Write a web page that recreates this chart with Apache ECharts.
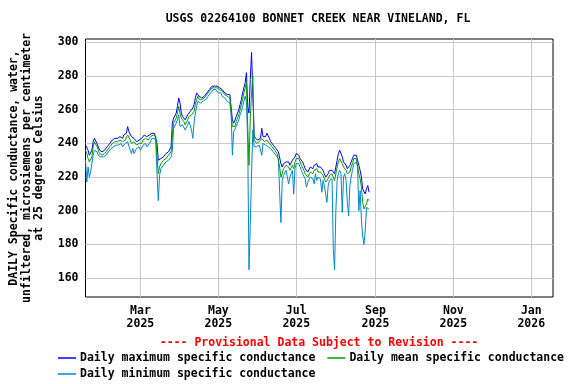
<!DOCTYPE html>
<html>
<head>
<meta charset="utf-8">
<script src="https://cdn.jsdelivr.net/npm/echarts@6/dist/echarts.min.js"></script>
<style>
html,body{margin:0;padding:0;background:#fff;}
#chart{width:576px;height:384px;}
</style>
</head>
<body>
<div id="chart"></div>
<script>
// First day of data (UTC) and daily values, one per day
const startDate = [2025, 0, 17];
const maxV = [
239,239,236,233,234,236,241,243,242,240,
238,236,235,235,236,236,237,238,239,240,
241,242,242,243,243,243,243,244,244,243,
245,244,246,250,247,246,244,243,243,242,
241,241,242,241,243,244,245,245,244,244,
245,246,246,246,246,246,240,230,230,231,
232,232,233,234,234,235,236,238,252,255,
256,258,262,267,264,258,256,255,254,255,
257,258,259,260,261,263,267,270,271,268,
267,267,268,268,269,270,271,272,273,274,
274,274,274,274,273,273,273,272,271,270,
270,269,270,269,269,254,252,253,256,258,
260,263,266,270,273,276,282,262,258,278,
294,294,245,243,242,242,243,243,249,244,
243,244,246,245,243,241,240,239,238,237,
236,235,234,228,226,228,229,229,230,229,
227,228,230,229,232,234,235,233,231,230,
229,227,225,224,223,224,226,227,225,227,
228,228,226,225,226,225,224,222,220,221,
222,224,224,224,223,222,226,230,234,236,
235,232,229,228,227,225,224,227,229,231,
233,233,233,232,227,224,220,213,212,210,
213,215,211];
const meanV = [
236,234,231,229,230,232,238,241,240,238,
236,234,234,233,234,234,235,236,237,238,
239,240,240,241,241,241,241,242,242,241,
242,242,243,245,244,242,240,240,241,240,
239,239,240,239,240,242,243,243,242,242,
243,244,245,245,245,244,232,222,226,228,
229,230,231,231,232,233,234,235,245,252,
253,255,258,262,258,255,254,253,251,252,
254,256,257,257,256,259,263,266,268,266,
265,266,266,267,268,269,270,271,272,273,
273,273,273,273,272,272,271,271,270,269,
269,268,268,267,266,250,249,250,253,255,
257,260,263,266,270,273,276,250,227,255,
270,280,242,241,240,240,241,241,243,242,
241,241,242,241,240,239,238,237,236,235,
234,233,226,220,222,225,226,227,228,226,
224,225,227,225,229,231,232,231,229,227,
226,224,222,221,220,221,223,224,222,224,
225,225,223,222,223,222,221,219,217,218,
219,221,222,222,221,218,222,226,229,231,
232,228,226,226,224,222,221,223,226,228,
231,232,231,230,222,219,214,205,201,200,
204,207,206];
const minV = [
230,217,226,220,223,228,233,236,237,235,
233,232,232,232,232,232,233,234,235,236,
237,238,238,239,239,239,239,240,240,238,
239,240,240,241,240,236,234,237,234,233,
237,237,238,236,237,239,240,240,238,239,
240,241,243,243,243,241,222,206,221,225,
226,227,228,229,229,230,231,232,236,249,
250,252,254,257,250,250,251,250,248,249,
251,253,252,248,243,252,258,262,265,264,
264,265,265,266,266,267,268,269,270,271,
272,272,272,272,270,269,270,268,267,267,
267,265,265,264,258,233,247,248,250,252,
254,257,259,262,265,268,265,240,165,192,
222,248,238,239,238,238,239,238,233,240,
239,239,239,238,237,237,236,235,234,233,
232,231,211,193,218,221,222,224,225,216,
220,222,224,210,225,228,229,228,226,224,
222,221,219,214,217,218,220,221,219,216,
222,218,220,219,219,211,218,215,210,205,
215,218,219,219,177,165,200,218,222,224,
222,199,220,222,218,205,197,215,220,224,
228,229,229,226,200,212,195,185,180,188,
202,203,201];

const seriesNames = ['Daily maximum specific conductance','Daily mean specific conductance','Daily minimum specific conductance'];
const seriesColors = ['#0000ff','#00a000','#0088d0'];
const yTicks = [160,180,200,220,240,260,280,300];
const xTickDates = [[2025,2,1],[2025,4,1],[2025,6,1],[2025,8,1],[2025,10,1],[2026,0,1]];
const monthNames = ['Jan','Feb','Mar','Apr','May','Jun','Jul','Aug','Sep','Oct','Nov','Dec'];
const titleText = 'USGS 02264100 BONNET CREEK NEAR VINELAND, FL';
const provisionalText = '---- Provisional Data Subject to Revision ----';
const yName = 'DAILY Specific conductance, water,\nunfiltered, microsiemens per centimeter\nat 25 degrees Celsius';

const DAY = 86400000;
const t0 = Date.UTC(startDate[0], startDate[1], startDate[2]);
function toPairs(arr){ return arr.map((v,i)=>[t0 + i*DAY, v]); }
const xTicks = xTickDates.map(d=>Date.UTC(d[0],d[1],d[2]));
const FONT = 'DejaVu Sans Mono';

const chart = echarts.init(document.getElementById('chart'), null, {renderer:'canvas'});
chart.setOption({
  animation:false,
  backgroundColor:'#fff',
  grid:{left:84,right:23,top:39,bottom:87,show:true,borderColor:'#000',borderWidth:1,backgroundColor:'transparent'},
  graphic:[
    {type:'text',x:318,y:13,style:{text:titleText,x:0,y:0,textAlign:'center',font:'bold 11.5px "DejaVu Sans Mono"',fill:'#000'}},
    {type:'text',x:319,y:337,style:{text:provisionalText,x:0,y:0,textAlign:'center',font:'bold 11.5px "DejaVu Sans Mono"',fill:'#ff0000'}}
  ],
  legend:[
    {data:[seriesNames[0],seriesNames[1]],left:53,top:347,orient:'horizontal',icon:'rect',itemWidth:18,itemHeight:1.5,itemGap:12,
     textStyle:{fontFamily:FONT,fontWeight:'bold',fontSize:11.5,color:'#000',padding:[0,0,0,-1]},selectedMode:false},
    {data:[seriesNames[2]],left:53,top:363,orient:'horizontal',icon:'rect',itemWidth:18,itemHeight:1.5,itemGap:12,
     textStyle:{fontFamily:FONT,fontWeight:'bold',fontSize:11.5,color:'#000',padding:[0,0,0,-1]},selectedMode:false}
  ],
  xAxis:{
    type:'value',
    min:Date.UTC(2025,0,17),
    max:Date.UTC(2026,0,18),
    axisLine:{show:false},
    axisTick:{show:false,customValues:xTicks},
    splitLine:{show:true,lineStyle:{color:'#c8c8c8',width:1}},
    axisLabel:{customValues:xTicks,margin:8,lineHeight:13,fontFamily:FONT,fontWeight:'bold',fontSize:11.5,color:'#000',
      formatter:function(v){const d=new Date(v);return monthNames[d.getUTCMonth()]+'\n'+d.getUTCFullYear();}}
  },
  yAxis:{
    type:'value',
    min:148.8,
    max:302,
    name:yName,
    nameLocation:'middle',
    nameRotate:90,
    nameGap:40,
    nameTextStyle:{fontFamily:FONT,fontWeight:'bold',fontSize:11.5,color:'#000',lineHeight:12.5,align:'center'},
    axisLine:{show:false},
    axisTick:{show:false,customValues:yTicks},
    splitLine:{show:true,lineStyle:{color:'#c8c8c8',width:1}},
    axisLabel:{customValues:yTicks,margin:7,fontFamily:FONT,fontWeight:'bold',fontSize:11.5,color:'#000'}
  },
  series:[
    {name:seriesNames[0],type:'line',data:toPairs(maxV),symbol:'none',lineStyle:{width:1,color:seriesColors[0]},itemStyle:{color:seriesColors[0]},z:2},
    {name:seriesNames[1],type:'line',data:toPairs(meanV),symbol:'none',lineStyle:{width:1,color:seriesColors[1]},itemStyle:{color:seriesColors[1]},z:3},
    {name:seriesNames[2],type:'line',data:toPairs(minV),symbol:'none',lineStyle:{width:1,color:seriesColors[2]},itemStyle:{color:seriesColors[2]},z:2}
  ]
});
</script>
</body>
</html>
